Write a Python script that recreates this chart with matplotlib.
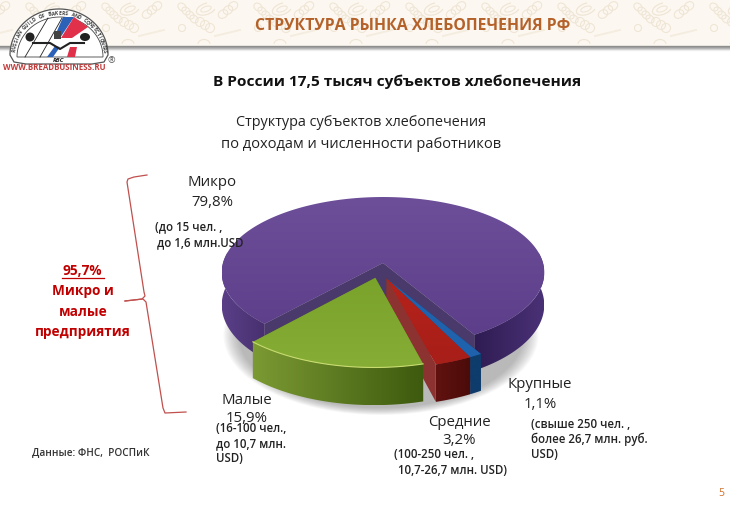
"""Pie of bakery market structure, drawn by hand to get the exploded 3D look."""

import numpy as np
import matplotlib

matplotlib.use("Agg")
import matplotlib.pyplot as plt
from matplotlib.colors import LinearSegmentedColormap
from matplotlib.patches import Arc, Ellipse, Polygon, Rectangle

plt.rcParams["font.family"] = ["Open Sans", "DejaVu Sans"]

# data
segments = ["Крупные", "Средние", "Малые", "Микро"]
shares = [1.1, 3.2, 15.9, 79.8]
share_labels = ["1,1%", "3,2%", "15,9%", "79,8%"]

# explosion of each slice: distance and direction in the pie plane
explode = [0.2, 0.2, 0.2, 0.0]
explode_dir = [6, 6, -13.5, 0]

top_cols = [("#1f62ad", "#1f62ad"), ("#b5231c", "#a81e18"), ("#7aa32b", "#86ad35"), ("#6c4e99", "#5c3e8a")]
wall_cols = [("#0e3c6c", "#0e3c6c"), ("#611210", "#4a0b09"), ("#7b9a33", "#3d5a0e"), ("#5a3f88", "#48306f")]
cut_cols = ["#123f70", "#8c3331", "#5d7a20", "#4a3a6b"]

# projection of the pie plane to pixels
X0, Y0 = 383, 263
RX, RY, PERSP = 160, 74.3, 0.126
DEPTH = 32
START = 30.6


def proj(x, y):
    w = 1 - PERSP * y
    return X0 + RX * x / w, Y0 + RY * y / w


def drop(y):
    return DEPTH / (1 - PERSP * y)


def grad_fill(ax, pts, c0, c1, zorder, vertical=False):
    # gradient image clipped to a polygon
    pts = np.asarray(pts)
    xmin, ymin = pts.min(axis=0)
    xmax, ymax = pts.max(axis=0)
    ramp = np.linspace(0, 1, 128)
    data = ramp[:, None] if vertical else ramp[None, :]
    cmap = LinearSegmentedColormap.from_list("g", [c0, c1])
    im = ax.imshow(data, extent=(xmin, xmax, ymax, ymin), origin="upper", cmap=cmap, aspect="auto",
                   zorder=zorder, interpolation="bilinear")
    clip = Polygon(pts, transform=ax.transData, fc="none", ec="none")
    ax.add_patch(clip)
    im.set_clip_path(clip)


fig = plt.figure(figsize=(7.3, 5.05), dpi=100, facecolor="white")
ax = fig.add_axes([0, 0, 1, 1])
ax.axis("off")

# header band with faint bread outlines
ax.add_patch(Rectangle((0, 0), 730, 46, fc="#fcf8f1", ec="none", zorder=0))
LINE = "#efe5d5"
OUTLINE = dict(fc="none", ec=LINE, lw=0.8, zorder=0.5)
for x0 in np.arange(-60, 730, 76):
    for k in range(4):
        ax.add_patch(Ellipse((x0 + 14 + k * 4, 7 + k * 4), 9, 7, angle=40, **OUTLINE))
    ax.add_patch(Arc((x0 + 38, 9), 20, 11, angle=-20, theta1=20, theta2=300, ec=LINE, lw=0.9, zorder=0.5))
    ax.add_patch(Ellipse((x0 + 38, 9), 11, 5, angle=-20, **OUTLINE))
    for k in range(3):
        ax.add_patch(Ellipse((x0 + 55 + k * 5, 14 - k * 4), 10, 8, angle=-35, **OUTLINE))
    for k in range(3):
        ax.add_patch(Ellipse((x0 + 32 + k * 5, 22 + k * 3), 9, 9, **OUTLINE))
    ax.add_patch(Ellipse((x0 + 14, 28), 7, 7, **OUTLINE))
    ax.plot([x0 + 47, x0 + 72], [36, 30], color="#f4ecdf", lw=1.4, zorder=0.5)
    ax.add_patch(Arc((x0 + 36, 44), 12, 9, theta1=180, theta2=360, ec=LINE, lw=0.8, zorder=0.5))
for i in range(5):
    ax.plot([0, 730], [45.5 + i, 45.5 + i], color="#777777", alpha=0.8 - 0.18 * i, lw=1, zorder=1)

# logo
th = np.radians(np.linspace(180, 360, 80))
dome = np.r_[np.c_[59 + 49 * np.cos(th), 55 + 46 * np.sin(th)], [[104, 62], [92, 64], [26, 64], [14, 62]]]
ax.add_patch(Polygon(dome, fc="white", ec="#555555", lw=0.9, zorder=2))
inner = np.r_[np.c_[60 + 43 * np.cos(th), 57 + 40 * np.sin(th)]]
ax.add_patch(Polygon(inner, fc="white", ec="#444444", lw=0.6, zorder=2.5))
ax.plot([25, 48], [57, 18], color="#222222", lw=0.6, zorder=3)
ax.plot([40, 62], [57, 18], color="#222222", lw=0.6, zorder=3)
ax.add_patch(Polygon([[63, 17], [74, 17], [60, 38], [54, 38]], fc="#2b62b8", ec="none", zorder=3))
ax.add_patch(Polygon([[74, 17], [88, 27], [72, 38], [61, 38]], fc="#e0304a", ec="none", zorder=3))
ax.add_patch(Polygon([[47, 57], [55, 46], [60, 47], [53, 57]], fc="#2b62b8", ec="none", zorder=3))
ax.add_patch(Polygon([[67, 57], [70, 47], [77, 47], [75, 57]], fc="#e0304a", ec="none", zorder=3))
ax.plot([33, 50, 60, 70, 84], [43, 43, 49, 43, 43], color="#222222", lw=1.5, zorder=4)
ax.add_patch(Ellipse((30, 37), 9, 9, fc="#222222", ec="none", zorder=4))
ax.add_patch(Ellipse((85, 37), 10, 8, fc="#222222", ec="none", zorder=4))
ax.add_patch(Rectangle((54, 31), 7, 8, fc="#444444", ec="none", zorder=4))
ring_text = "RUSSIAN GUILD OF BAKERS AND CONFECTIONERS"
for ch, ang in zip(ring_text, np.linspace(172, 6, len(ring_text))):
    a = np.radians(ang)
    ax.text(59 + 45.5 * np.cos(a), 56 - 42.5 * np.sin(a), ch, fontsize=3.5, fontweight="bold", color="#333333",
            rotation=ang - 90, ha="center", va="center", zorder=5)
ax.text(59, 60.5, "RBC", fontsize=4.5, fontweight="bold", style="italic", color="#222222", ha="center", va="center", zorder=5)
ax.text(111, 61, "®", fontsize=6.5, color="#555555", ha="center", va="center", zorder=5)
ax.text(54, 68, "WWW.BREADBUSINESS.RU", fontsize=5.7, fontweight="bold", color="#c23a3a", ha="center", va="center", zorder=5)

# titles
ax.text(413, 26, "СТРУКТУРА РЫНКА ХЛЕБОПЕЧЕНИЯ РФ", fontsize=11.4, fontweight="bold", color="#b5622a", ha="center", va="center", zorder=5)
ax.text(397, 82, "В России 17,5 тысяч субъектов хлебопечения", fontsize=11.05, fontweight="bold", color="#111111", ha="center", va="center")
ax.text(361, 122, "Структура субъектов хлебопечения", fontsize=10.4, color="#222222", ha="center", va="center")
ax.text(361, 144, "по доходам и численности работников", fontsize=10.5, color="#222222", ha="center", va="center")

# soft shadow under the pie
for k in np.linspace(1, 0, 12):
    ax.add_patch(Ellipse((381, 335), 285 + 30 * k, 146 + 14 * k, fc="#555555", ec="none", alpha=0.04, zorder=2))

# slices
edges = START - np.cumsum([0] + shares) * 360 / sum(shares)
z = 3
for i in [3, 0, 1, 2]:
    a0, a1 = edges[i], edges[i + 1]
    ex = np.radians(explode_dir[i])
    ox, oy = explode[i] * np.sin(ex), explode[i] * np.cos(ex)
    ang = np.radians(np.linspace(a0, a1, max(int(abs(a1 - a0) * 1.5), 6)))
    ux, uy = ox + np.sin(ang), oy + np.cos(ang)
    px, py = proj(ux, uy)
    tip_x, tip_y = proj(ox, oy)
    d = drop(uy)
    d0 = drop(oy)

    # cut faces
    for j in [0, -1]:
        ax.add_patch(Polygon([[tip_x, tip_y], [px[j], py[j]], [px[j], py[j] + d[j]], [tip_x, tip_y + d0]],
                             fc=cut_cols[i], ec="none", zorder=z))
    # outer wall, walked along the rim then back along the lower rim
    front = np.cos(ang) > -0.15
    if i == 3:
        # the micro slice wraps round the back, so its rim has two visible runs
        breaks = np.where(np.diff(front.astype(int)) != 0)[0]
        runs = [(0, breaks[0] + 1), (breaks[-1] + 1, len(ang))]
        for s, e in runs:
            part = np.r_[np.c_[px[s:e], py[s:e]], np.c_[px[s:e], (py + d)[s:e]][::-1]]
            c0, c1 = wall_cols[i] if s == 0 else ("#2f1c52", "#4a3176")
            grad_fill(ax, part, c0, c1, z + 0.1)
    else:
        wall = np.r_[np.c_[px[front], py[front]], np.c_[px[front], py[front] + d[front]][::-1]]
        grad_fill(ax, wall, wall_cols[i][0], wall_cols[i][1], z + 0.1)

    # top face
    top = np.r_[[[tip_x, tip_y]], np.c_[px, py]]
    grad_fill(ax, top, top_cols[i][0], top_cols[i][1], z + 0.2, vertical=True)
    if i == 2:
        ax.plot(px, py, color="#c8dc70", lw=0.8, zorder=z + 0.3)
    z += 1

# category labels
label_pos = [(540, 385, 404), (459, 422, 441), (247, 400, 418), (212, 183, 202)]
for name, lab, (xx, y1, y2) in zip(segments, share_labels, label_pos):
    ax.text(xx, y1, name, fontsize=10.8, color="#222222", ha="center", va="center", zorder=10)
    ax.text(xx, y2, lab, fontsize=10.8, color="#222222", ha="center", va="center", zorder=10)

# notes
notes = [
    (155, 227, "(до 15 чел. ,"),
    (157, 243, "до 1,6 млн.USD"),
    (216, 428, "(16-100 чел.,"),
    (216, 444, "до 10,7 млн."),
    (216, 459, "USD)"),
    (394, 454, "(100-250 чел. ,"),
    (398, 471, "10,7-26,7 млн. USD)"),
    (531, 424, "(свыше 250 чел. ,"),
    (531, 439, "более 26,7 млн. руб."),
    (531, 455, "USD)"),
]
for xx, yy, s in notes:
    ax.text(xx, yy, s, fontsize=8.3, fontweight="semibold", color="#222222", ha="left", va="center", zorder=11)
ax.text(32, 453, "Данные: ФНС,  РОСПиК", fontsize=7.2, fontweight="semibold", color="#333333", ha="left", va="center")

# brace and red summary
ax.plot([147, 134, 128, 127, 144, 145, 142, 125], [175, 177, 179, 182, 292, 296, 299, 301], color="#c0504d", lw=0.9, zorder=6)
ax.plot([125, 143, 146, 163, 165, 186], [301, 299, 302, 408, 413, 412], color="#c0504d", lw=0.9, zorder=6)
ax.text(82.5, 271, "95,7%", fontsize=9.8, fontweight="bold", color="#c00000", ha="center", va="center")
ax.plot([62, 104], [278, 278], color="#c00000", lw=0.9)
for yy, s in zip([291, 312, 332], ["Микро и", "малые", "предприятия"]):
    ax.text(83, yy, s, fontsize=9.8, fontweight="bold", color="#c00000", ha="center", va="center")
ax.text(721, 494, "5", fontsize=7.5, color="#d0702a", ha="center", va="center")

ax.set_xlim(0, 730)
ax.set_ylim(505, 0)
fig.savefig("out.png", dpi=100, facecolor="white")
